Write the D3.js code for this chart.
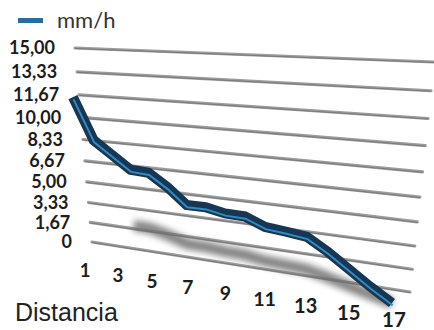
<!DOCTYPE html>
<html><head><meta charset="utf-8">
<script src="https://cdn.jsdelivr.net/npm/d3@7/dist/d3.min.js"></script>
<style>html,body{margin:0;padding:0;background:#fff}svg{display:block}</style>
</head><body><svg id="c" width="434" height="330"></svg>
<script>
// ---- data ----
const categories = [1,2,3,4,5,6,7,8,9,10,11,12,13,14,15,16,17];
const rainfall = [11.8, 8.75, 7.8, 6.85, 6.8, 5.9, 4.75, 4.8, 4.55, 4.55, 4.0, 3.9, 3.75, 2.9, 1.9, 0.9, 0];
const xTickValues = [1,3,5,7,9,11,13,15,17];
const yTickValues = [0, 1.67, 3.33, 5, 6.67, 8.33, 10, 11.67, 13.33, 15];
const yTickLabels = ["0","1,67","3,33","5,00","6,67","8,33","10,00","11,67","13,33","15,00"];
const seriesName = "mm/h";
const xTitle = "Distancia";

// ---- projection helpers (unit square -> quad, perspective) ----
function quad(p00,p10,p11,p01){
  const [x0,y0]=p00,[x1,y1]=p10,[x2,y2]=p11,[x3,y3]=p01;
  const dx1=x1-x2, dy1=y1-y2, dx2=x3-x2, dy2=y3-y2, dx3=x0-x1+x2-x3, dy3=y0-y1+y2-y3;
  const den=dx1*dy2-dx2*dy1;
  const g=(dx3*dy2-dx2*dy3)/den, h=(dx1*dy3-dx3*dy1)/den;
  const a=x1-x0+g*x1, b=x3-x0+h*x3, c=x0, d=y1-y0+g*y1, e=y3-y0+h*y3, f=y0;
  return (u,v)=>{const w=g*u+h*v+1; return [(a*u+b*v+c)/w,(d*u+e*v+f)/w];};
}
const wall  = quad([92,242],[410,292],[434,62],[75,48]);
const front = quad([86,246],[392,303],[416,73],[69,52]);

const u = d3.scaleLinear().domain([1,17]).range([0,1]);
const v = d3.scaleLinear().domain([0,15]).range([0,1]);
const vShadow = d3.scaleLinear().domain([0,15]).range([0,0.36]);

const svg = d3.select("#c");
const defs = svg.append("defs");
defs.append("filter").attr("id","blur").attr("x","-20%").attr("y","-50%").attr("width","140%").attr("height","200%")
  .append("feGaussianBlur").attr("stdDeviation",3);

// gridlines
const grid = svg.append("g");
yTickValues.forEach(t=>{
  const a = wall(0, v(t)), b = wall(1, v(t));
  grid.append("line").attr("x1",a[0]).attr("y1",a[1]).attr("x2",b[0]).attr("y2",b[1])
    .attr("stroke","#9c9c9c").attr("stroke-width",3.2).attr("stroke-linecap","round");
  grid.append("line").attr("x1",a[0]).attr("y1",a[1]+0.5).attr("x2",b[0]).attr("y2",b[1]+0.5)
    .attr("stroke","#7a7a7a").attr("stroke-width",1);
});

// y labels
svg.append("g").selectAll("text").data(yTickValues).join("text")
  .attr("x", d=>wall(0,v(d))[0]-20)
  .attr("y", d=>wall(0,v(d))[1])
  .attr("dy","0.36em")
  .attr("text-anchor","end")
  .attr("font-family","Lato, 'Open Sans', sans-serif").attr("font-weight",700).attr("font-size",18)
  .attr("fill","#1c1c1c")
  .text((d,i)=>yTickLabels[i]);

// x labels
const xOff = d3.scaleLinear().domain([0,1]).range([-7,-16]);
const xSize = d3.scaleLinear().domain([0,1]).range([18.5,20.5]);
svg.append("g").selectAll("text").data(xTickValues).join("text")
  .attr("x", d=>wall(u(d),0)[0]+xOff(u(d)))
  .attr("y", d=>wall(u(d),0)[1]+28)
  .attr("dy","0.36em")
  .attr("text-anchor","middle")
  .attr("font-family","Lato, 'Open Sans', sans-serif").attr("font-weight",700).attr("font-size",d=>xSize(u(d)))
  .attr("fill","#1c1c1c")
  .text(d=>d);

// shadow
const shadowData = categories.map((c,i)=>[c,rainfall[i]]).filter(d=>d[0]>=4);
const shadowLine = d3.line().x(d=>front(u(d[0]),vShadow(d[1]))[0]).y(d=>front(u(d[0]),vShadow(d[1]))[1]);
svg.append("path").attr("d",shadowLine(shadowData)).attr("fill","none")
  .attr("stroke","#6e6e6e").attr("stroke-width",11).attr("opacity",0.85).attr("filter","url(#blur)");

// series ribbon
const pts = categories.map((c,i)=>front(u(c),v(rainfall[i])));
const line = d3.line();
svg.append("path").attr("d",line(pts)).attr("fill","none")
  .attr("stroke","#173652").attr("stroke-width",10).attr("stroke-linejoin","miter");
svg.append("path").attr("d",line(pts.map(p=>[p[0]+0.6,p[1]+2.2]))).attr("fill","none")
  .attr("stroke","#2f8ac6").attr("stroke-width",2).attr("stroke-linejoin","miter");

// legend
svg.append("rect").attr("x",18).attr("y",18).attr("width",25).attr("height",5).attr("fill","#2a6d9b");
svg.append("text").attr("x",57).attr("y",28).attr("font-family","Lato, sans-serif").attr("font-size",22)
  .attr("fill","#333").text(seriesName);

// x title
svg.append("text").attr("x",15).attr("y",321).attr("font-family","'Liberation Sans', Arial, sans-serif")
  .attr("font-size",25).attr("fill","#222").text(xTitle);
</script></body></html>
